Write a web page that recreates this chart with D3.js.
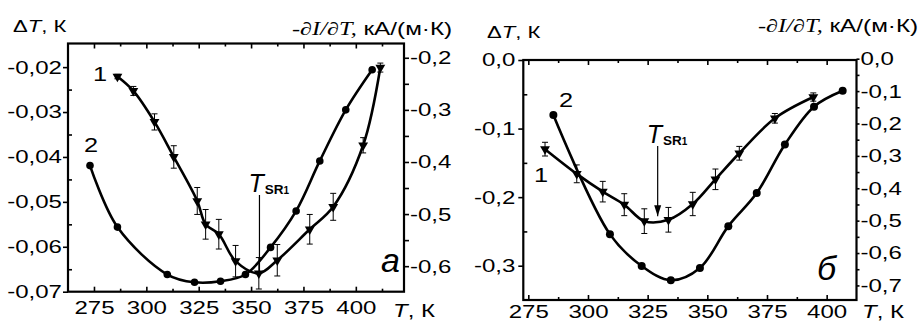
<!DOCTYPE html>
<html>
<head>
<meta charset="utf-8">
<script src="https://cdn.jsdelivr.net/npm/d3@7"></script>
<style>
  body { margin: 0; background: #fff; }
  svg text { font-family: "Liberation Sans", Arial, sans-serif; fill: #000; }
</style>
</head>
<body>
<svg id="chart" width="920" height="322"></svg>
<script>
// panel а: curve 1 (triangles, ΔT), curve 2 (circles, -dI/dT)
const a1T   = [286.2, 293.8, 303.9, 313.1, 324.3, 328.3, 334.6, 342.6, 353.7, 362.5, 378.0, 389.2, 403.5, 411.7];
const a1dT  = [-0.0221, -0.0253, -0.0322, -0.0400, -0.0498, -0.0550, -0.0572, -0.0632, -0.0659, -0.0630, -0.0561, -0.0511, -0.0374, -0.0201];
const a1err = [0.0005, 0.001, 0.0018, 0.0025, 0.003, 0.0033, 0.0033, 0.0035, 0.0035, 0.0035, 0.0033, 0.003, 0.0017, 0.001];
const a2T   = [273.1, 286.2, 310.0, 323.0, 335.4, 347.3, 359.3, 371.5, 382.8, 395.2, 407.8];
const a2dI  = [-0.407, -0.525, -0.616, -0.631, -0.629, -0.616, -0.564, -0.494, -0.398, -0.300, -0.223];

// panel б
const b1T   = [282.0, 295.3, 306.2, 315.2, 323.6, 333.7, 343.9, 353.4, 363.4, 378.3, 394.4];
const b1dT  = [-0.130, -0.166, -0.192, -0.211, -0.235, -0.233, -0.210, -0.174, -0.136, -0.085, -0.054];
const b1err = [0.010, 0.013, 0.015, 0.016, 0.018, 0.018, 0.017, 0.015, 0.010, 0.007, 0.006];
const b2T   = [285.5, 309.2, 322.5, 334.7, 346.9, 358.8, 370.7, 382.5, 394.7, 406.7];
const b2dI  = [-0.174, -0.542, -0.640, -0.684, -0.646, -0.517, -0.415, -0.265, -0.148, -0.099];

// T_SR1 marks
const tSR = [354, 329.2];

// ticks
const xTicks = [275, 300, 325, 350, 375, 400];
const aLeftTicks  = [-0.07, -0.06, -0.05, -0.04, -0.03, -0.02];
const aRightTicks = [-0.6, -0.5, -0.4, -0.3, -0.2];
const bLeftTicks  = [-0.3, -0.2, -0.1, 0];
const bRightTicks = [-0.7, -0.6, -0.5, -0.4, -0.3, -0.2, -0.1, 0];

const SX = 1.3;
const svg = d3.select('#chart');

const comma = (digits) => (d) => {
  let s = Math.abs(d).toFixed(digits).replace('.', ',');
  return (d < -1e-9 ? '-' : '') + s;
};

function widen(sel, sx) {
  sel.each(function() {
    const t = d3.select(this);
    const x = +t.attr('x') || 0;
    t.attr('x', 0).attr('transform', 'translate(' + x + ',0) scale(' + sx + ',1)');
  });
}

function minorsOf(major, step) {
  let out = [];
  for (let i = 0; i < major.length; i++) {
    out.push(major[i] - step / 2);
  }
  out.push(major[major.length - 1] + step / 2);
  return out;
}

function label(g, x, y, size, sx) {
  return g.append('text')
    .attr('transform', 'translate(' + x + ',' + y + ') scale(' + sx + ',1)')
    .attr('font-size', size);
}

function drawPanel(p) {
  const g = svg.append('g');
  const x = d3.scaleLinear().domain(p.xDom).range([p.left, p.right]);
  const yl = d3.scaleLinear().domain(p.ylDom).range([p.bottom, p.top]);
  const yr = d3.scaleLinear().domain(p.yrDom).range([p.bottom, p.top]);

  const axes = [];
  const xMinor = minorsOf(xTicks, 25).filter(v => x(v) > p.left + 2 && x(v) < p.right - 2);

  axes.push(g.append('g').attr('transform', 'translate(0,' + p.bottom + ')')
    .call(d3.axisBottom(x).tickValues(xTicks).tickSize(-5).tickPadding(p.xPad).tickFormat(d3.format('d'))));
  axes.push(g.append('g').attr('transform', 'translate(0,' + p.bottom + ')')
    .call(d3.axisBottom(x).tickValues(xMinor).tickSize(-3).tickFormat('')));
  axes.push(g.append('g').attr('transform', 'translate(0,' + p.top + ')')
    .call(d3.axisTop(x).tickValues(xTicks).tickSize(-5).tickFormat('')));
  axes.push(g.append('g').attr('transform', 'translate(0,' + p.top + ')')
    .call(d3.axisTop(x).tickValues(xMinor).tickSize(-3).tickFormat('')));

  const lMinor = minorsOf(p.leftTicks, p.leftStep).filter(v => yl(v) < p.bottom - 2 && yl(v) > p.top + 2);
  axes.push(g.append('g').attr('transform', 'translate(' + p.left + ',0)')
    .call(d3.axisLeft(yl).tickValues(p.leftTicks).tickSize(5).tickPadding(p.lPad).tickFormat(comma(p.leftDigits))));
  axes.push(g.append('g').attr('transform', 'translate(' + p.left + ',0)')
    .call(d3.axisLeft(yl).tickValues(lMinor).tickSize(-4).tickFormat('')));

  const rMinor = minorsOf(p.rightTicks, 0.1).filter(v => yr(v) < p.bottom - 2 && yr(v) > p.top + 2);
  axes.push(g.append('g').attr('transform', 'translate(' + p.right + ',0)')
    .call(d3.axisRight(yr).tickValues(p.rightTicks).tickSize(p.rTick).tickPadding(p.rPad).tickFormat(comma(1))));
  axes.push(g.append('g').attr('transform', 'translate(' + p.right + ',0)')
    .call(d3.axisRight(yr).tickValues(rMinor).tickSize(p.rTick).tickFormat('')));

  axes.forEach(a => {
    a.select('.domain').remove();
    a.attr('font-size', 18.5).attr('font-family', '"Liberation Sans", Arial, sans-serif');
    a.selectAll('line').attr('stroke', '#000').attr('stroke-width', 1.6);
    widen(a.selectAll('text'), SX);
  });

  g.append('rect')
    .attr('x', p.left).attr('y', p.top)
    .attr('width', p.right - p.left).attr('height', p.bottom - p.top)
    .attr('fill', 'none').attr('stroke', '#000').attr('stroke-width', 2.2);

  // curves
  const line = d3.line().curve(d3.curveCatmullRom.alpha(0.5));
  const c1 = p.t1.map((t, i) => [x(t), yl(p.v1[i])]);
  const c2 = p.t2.map((t, i) => [x(t), yr(p.v2[i])]);

  g.append('path').attr('d', line(c2)).attr('fill', 'none')
    .attr('stroke', '#000').attr('stroke-width', 2.6);
  g.append('path').attr('d', line(c1)).attr('fill', 'none')
    .attr('stroke', '#000').attr('stroke-width', 2.6);

  // error bars
  const eb = g.append('g').attr('stroke', '#000').attr('stroke-width', 1);
  p.t1.forEach((t, i) => {
    const cx = x(t), yTop = yl(p.v1[i] + p.e1[i]), yBot = yl(p.v1[i] - p.e1[i]);
    eb.append('line').attr('x1', cx).attr('x2', cx).attr('y1', yTop).attr('y2', yBot);
    eb.append('line').attr('x1', cx - 3).attr('x2', cx + 3).attr('y1', yTop).attr('y2', yTop);
    eb.append('line').attr('x1', cx - 3).attr('x2', cx + 3).attr('y1', yBot).attr('y2', yBot);
  });

  g.selectAll('.circ').data(c2).enter().append('circle')
    .attr('cx', d => d[0]).attr('cy', d => d[1]).attr('r', p.r).attr('fill', '#000');

  const tri = d3.symbol(d3.symbolTriangle, 42);
  g.selectAll('.tri').data(c1).enter().append('path')
    .attr('d', tri)
    .attr('transform', d => 'translate(' + d[0] + ',' + d[1] + ') rotate(180)')
    .attr('fill', '#000');

  // T_SR1 mark
  const xs = x(p.tsr);
  g.append('line').attr('x1', xs).attr('x2', xs)
    .attr('y1', p.tsrTop).attr('y2', yl(p.tsrEnd))
    .attr('stroke', '#000').attr('stroke-width', 1.2);
  if (p.arrow) {
    const yb = yl(p.tsrEnd);
    g.append('path')
      .attr('d', d3.line()([[xs - 3.5, yb - 11], [xs + 3.5, yb - 11], [xs, yb]]))
      .attr('fill', '#000');
  }
  const ts = g.append('text').attr('x', xs - 11).attr('y', p.tsrTop - 3);
  ts.append('tspan').attr('font-size', 25).attr('font-style', 'italic').text('T');
  ts.append('tspan').attr('font-size', 13.5).attr('font-weight', 'bold').attr('dy', 2).attr('dx', 1).text('SR');
  ts.append('tspan').attr('font-size', 10).attr('font-weight', 'bold').text('1');

  // axis titles
  const lt = label(g, p.ltX, p.ltY, 17, SX);
  lt.append('tspan').text('\u0394');
  lt.append('tspan').attr('font-style', 'italic').text('T');
  lt.append('tspan').text(', К');

  const rt = label(g, p.rtX, p.rtY, 18, 1.35);
  rt.append('tspan').attr('font-family', '"Liberation Serif", "Times New Roman", serif')
    .attr('font-style', 'italic').text('-\u2202I/\u2202T,');
  rt.append('tspan').text(' кА/(м·К)');

  const xt = label(g, p.xtX, p.xtY, 18.5, SX);
  xt.append('tspan').attr('font-style', 'italic').text('T');
  xt.append('tspan').text(', К');

  // curve numbers
  label(g, p.n1[0], p.n1[1], 19.5, SX).attr('text-anchor', 'middle').text('1');
  label(g, p.n2[0], p.n2[1], 19.5, SX).attr('text-anchor', 'middle').text('2');

  // panel letter
  g.append('text').attr('x', p.letter[0]).attr('y', p.letter[1])
    .attr('font-size', 34).attr('font-style', 'italic').text(p.letter[2]);
}

drawPanel({
  left: 68, right: 404, top: 43.5, bottom: 291.7,
  xDom: [262.6, 423], ylDom: [-0.07, -0.01474], yrDom: [-0.649, -0.1726],
  leftTicks: aLeftTicks, leftStep: 0.01, leftDigits: 2, rightTicks: aRightTicks,
  xPad: 9, lPad: 1, rPad: 1, rTick: 5,
  t1: a1T, v1: a1dT, e1: a1err, t2: a2T, v2: a2dI, r: 3.8,
  tsr: tSR[0], tsrTop: 195, tsrEnd: -0.0659, arrow: false,
  ltX: 13, ltY: 32, rtX: 292, rtY: 35, xtX: 393, xtY: 317,
  n1: [100, 81], n2: [91, 152], letter: [381, 272, 'а']
});

drawPanel({
  left: 523.3, right: 856.5, top: 60, bottom: 300,
  xDom: [272.9, 412.5], ylDom: [-0.35, 0], yrDom: [-0.745, -0.004],
  leftTicks: bLeftTicks, leftStep: 0.1, leftDigits: 1, rightTicks: bRightTicks,
  xPad: 5, lPad: 3, rPad: 1, rTick: 3,
  t1: b1T, v1: b1dT, e1: b1err, t2: b2T, v2: b2dI, r: 4,
  tsr: tSR[1], tsrTop: 146, tsrEnd: -0.228, arrow: true,
  ltX: 487, ltY: 38, rtX: 758, rtY: 32, xtX: 862, xtY: 318,
  n1: [541, 182], n2: [566, 107], letter: [817, 280, 'б']
});
</script>
</body>
</html>
